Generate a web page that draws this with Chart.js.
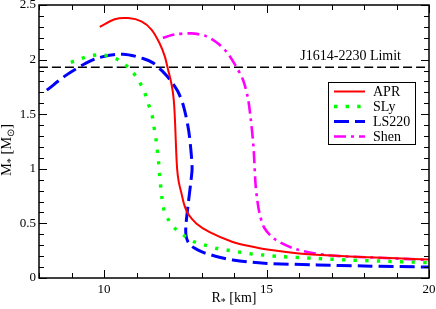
<!DOCTYPE html>
<html><head><meta charset="utf-8">
<script src="https://cdn.jsdelivr.net/npm/chart.js@4/dist/chart.umd.min.js"></script>
<style>html,body{margin:0;padding:0;background:#fff}canvas{display:block}</style>
</head><body>
<canvas id="c" width="436" height="309"></canvas>
<script>
// ---- data (radius R* in km, mass M* in solar masses) ----
const seriesNames = ['APR', 'SLy', 'LS220', 'Shen'];
const aprR = [9.87, 10.33, 10.74, 11.15, 11.46, 11.71, 11.87, 11.97, 12.06, 12.12, 12.16, 12.19, 12.22, 12.25, 12.3, 12.38, 12.46, 12.58, 12.84, 13.25, 13.96, 14.5, 15.03, 16.0, 17.0, 18.1, 19.0, 20.0];
const aprM = [2.30, 2.37, 2.38, 2.35, 2.275, 2.15, 2.03, 1.91, 1.8, 1.7, 1.58, 1.4, 1.17, 1.0, 0.88, 0.78, 0.68, 0.59, 0.50, 0.42, 0.33, 0.29, 0.26, 0.225, 0.205, 0.19, 0.18, 0.17];
const slyR = [8.98, 9.31, 9.67, 10.02, 10.36, 10.67, 10.9, 11.1, 11.26, 11.37, 11.48, 11.54, 11.6, 11.64, 11.68, 11.71, 11.74, 11.78, 11.84, 11.99, 12.2, 12.48, 12.79, 13.12, 13.48, 13.83, 14.19, 14.55, 14.91, 15.5, 16.5, 17.5, 18.5, 19.5, 20.0];
const slyM = [1.975, 2.01, 2.04, 2.04, 2.01, 1.95, 1.88, 1.79, 1.69, 1.59, 1.49, 1.38, 1.27, 1.17, 1.06, 0.95, 0.85, 0.74, 0.63, 0.53, 0.45, 0.385, 0.33, 0.30, 0.27, 0.254, 0.236, 0.22, 0.21, 0.195, 0.18, 0.165, 0.155, 0.145, 0.14];
const ls220R = [8.24, 8.85, 9.46, 9.87, 10.59, 11.2, 11.51, 11.81, 12.02, 12.27, 12.45, 12.6, 12.68, 12.71, 12.68, 12.58, 12.52, 12.52, 12.57, 12.68, 12.9, 13.09, 13.55, 13.96, 14.93, 16.56, 18.0, 20.0];
const ls220M = [1.72, 1.86, 1.97, 2.02, 2.05, 2.01, 1.97, 1.89, 1.82, 1.71, 1.57, 1.36, 1.15, 1.0, 0.9, 0.65, 0.48, 0.40, 0.34, 0.295, 0.255, 0.23, 0.19, 0.165, 0.135, 0.12, 0.11, 0.10];
const shenR = [11.81, 12.17, 12.68, 13.14, 13.5, 13.8, 14.04, 14.27, 14.42, 14.51, 14.6, 14.66, 14.7, 14.78, 14.93, 15.28, 15.95, 16.87, 18.1, 20.0];
const shenM = [2.2, 2.23, 2.24, 2.215, 2.15, 2.06, 1.95, 1.82, 1.66, 1.47, 1.2, 0.87, 0.75, 0.6, 0.46, 0.35, 0.26, 0.21, 0.19, 0.165];
const limitM = 1.93;
const limitLabel = 'J1614-2230 Limit';
const xTickLabels = [10, 15, 20];
const yTickLabels = [0, 0.5, 1, 1.5, 2, 2.5];
const xRange = [8, 20];
const yRange = [0, 2.5];

const pts = (xs, ys) => xs.map((x, i) => ({x, y: ys[i]}));
const serif = '"Liberation Serif", "Times New Roman", serif';

const datasets = [
  {label: seriesNames[0], data: pts(aprR, aprM), borderColor: '#ff0000', borderWidth: 2, borderDash: []},
  {label: seriesNames[1], data: pts(slyR, slyM), borderColor: '#00ff00', borderWidth: 3.4, borderDash: [3.4, 8.2]},
  {label: seriesNames[2], data: pts(ls220R, ls220M), borderColor: '#0000ff', borderWidth: 3, borderDash: [15, 6]},
  {label: seriesNames[3], data: pts(shenR, shenM), borderColor: '#ff00ff', borderWidth: 2.6, borderDash: [12, 5, 3, 5]},
  {label: limitLabel, data: pts(xRange, [limitM, limitM]), borderColor: '#000000', borderWidth: 1.5, borderDash: [9, 4], isLimit: true}
].map(d => Object.assign({pointRadius: 0, fill: false, tension: 0.3, borderCapStyle: 'butt', borderJoinStyle: 'round'}, d));

const framePlugin = {
  id: 'frame',
  afterDatasetsDraw(chart) {
    const {ctx, chartArea: a, scales: {x, y}} = chart;
    ctx.save();
    // limit label
    ctx.fillStyle = '#000';
    ctx.font = '14px ' + serif;
    ctx.textBaseline = 'alphabetic';
    ctx.textAlign = 'right';
    ctx.fillText(limitLabel, a.right - 28, y.getPixelForValue(limitM) - 7);
    // legend box
    const bx = a.right - 101, by = a.top + 77, bw = 87, bh = 62;
    ctx.fillStyle = '#fff';
    ctx.fillRect(bx, by, bw, bh);
    ctx.strokeStyle = '#000'; ctx.lineWidth = 1; ctx.setLineDash([]);
    ctx.strokeRect(bx + 0.5, by + 0.5, bw, bh);
    ctx.textAlign = 'left';
    ctx.textBaseline = 'middle';
    ctx.font = '14px ' + serif;
    chart.data.datasets.filter(d => !d.isLimit).forEach((d, i) => {
      const ly = by + 9.5 + i * 15;
      ctx.beginPath();
      ctx.strokeStyle = d.borderColor;
      ctx.lineWidth = d.borderWidth;
      ctx.lineCap = 'butt';
      ctx.setLineDash(d.borderDash);
      ctx.moveTo(bx + 6, ly); ctx.lineTo(bx + 37, ly);
      ctx.stroke();
      ctx.setLineDash([]);
      ctx.fillStyle = '#000';
      ctx.fillText(d.label, bx + 45, ly + 1);
    });
    ctx.restore();
  },
  afterDraw(chart) {
    const {ctx, chartArea: a, scales: {x, y}} = chart;
    ctx.save();
    ctx.strokeStyle = '#000';
    ctx.lineWidth = 1;
    ctx.setLineDash([]);
    ctx.beginPath();
    for (let v = xRange[0]; v <= xRange[1]; v++) {
      const px = Math.round(x.getPixelForValue(v)) + 0.5;
      const len = v % 5 === 0 ? 8 : 5;
      ctx.moveTo(px, a.bottom); ctx.lineTo(px, a.bottom - len);
      ctx.moveTo(px, a.top); ctx.lineTo(px, a.top + len);
    }
    for (let i = 0; i <= 25; i++) {
      const py = Math.round(y.getPixelForValue(i / 10)) + 0.5;
      const len = i % 5 === 0 ? 8 : 5;
      ctx.moveTo(a.left, py); ctx.lineTo(a.left + len, py);
      ctx.moveTo(a.right, py); ctx.lineTo(a.right - len, py);
    }
    ctx.stroke();
    ctx.lineWidth = 1.5;
    ctx.strokeRect(a.left, a.top, a.right - a.left, a.bottom - a.top);
    // axis titles with subscripts
    ctx.fillStyle = '#000';
    ctx.textBaseline = 'alphabetic';
    ctx.textAlign = 'left';
    const drawTitle = (parts, cx, cy, size) => {
      const sub = Math.round(size * 0.72);
      let w = 0;
      parts.forEach(p => { ctx.font = (p.sub ? sub : size) + 'px ' + serif; p.w = ctx.measureText(p.t).width; w += p.w; });
      let xx = cx - w / 2;
      parts.forEach(p => {
        ctx.font = (p.sub ? sub : size) + 'px ' + serif;
        ctx.fillText(p.t, xx, cy + (p.sub ? 3 : 0));
        xx += p.w;
      });
    };
    drawTitle([{t: 'R'}, {t: '*', sub: true}, {t: ' [km]'}], 234, 302, 14);
    ctx.translate(11, 150);
    ctx.rotate(-Math.PI / 2);
    drawTitle([{t: 'M'}, {t: '*', sub: true}, {t: ' [M'}, {t: '\u2299', sub: true}, {t: ']'}], 0, 0, 14.5);
    ctx.restore();
  }
};

new Chart(document.getElementById('c'), {
  type: 'line',
  data: {datasets},
  options: {
    responsive: false,
    animation: false,
    devicePixelRatio: 1,
    layout: {padding: {top: 5, right: 7, left: 0, bottom: 0}},
    plugins: {legend: {display: false}, tooltip: {enabled: false}},
    scales: {
      x: {
        type: 'linear', min: xRange[0], max: xRange[1],
        grid: {display: false, drawTicks: false}, border: {display: false},
        ticks: {stepSize: 1, autoSkip: false, maxRotation: 0, padding: 4, color: '#000',
          font: {family: serif, size: 13},
          callback: v => xTickLabels.includes(v) ? String(v) : ''},
        afterFit: s => { s.height = 31; s.paddingLeft = 0; s.paddingRight = 0; }
      },
      y: {
        type: 'linear', min: yRange[0], max: yRange[1],
        grid: {display: false, drawTicks: false}, border: {display: false},
        ticks: {stepSize: 0.5, padding: 3, color: '#000',
          font: {family: serif, size: 13},
          callback: v => yTickLabels.includes(v) ? String(v) : ''},
        afterFit: s => { s.width = 39; s.paddingTop = 0; s.paddingBottom = 0; }
      }
    }
  },
  plugins: [framePlugin]
});
</script>
</body></html>
